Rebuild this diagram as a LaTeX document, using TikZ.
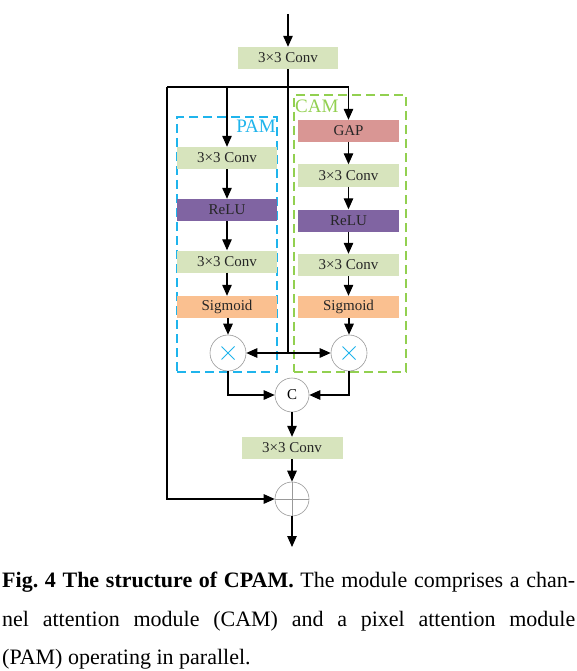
\documentclass[tikz,border=0pt]{standalone}
\usepackage{fontspec}
\setmainfont{Liberation Serif}
\usetikzlibrary{arrows.meta}
\definecolor{convc}{HTML}{D7E4BD}
\definecolor{gapc}{HTML}{D99694}
\definecolor{reluc}{HTML}{8064A2}
\definecolor{sigc}{HTML}{FAC090}
\definecolor{pamc}{HTML}{1FB4EC}
\definecolor{camc}{HTML}{92D050}
\frenchspacing
\begin{document}
\begin{tikzpicture}[x=1pt,y=-1pt,
  blk/.style={minimum width=100pt,minimum height=22pt,inner sep=0pt,font=\fontsize{15}{18}\selectfont,text=black!85},
  conv/.style={blk,fill=convc},
  gapb/.style={blk,fill=gapc,minimum width=101pt},
  relub/.style={blk,fill=reluc},
  sigb/.style={blk,fill=sigc},
  arr/.style={-{Triangle[length=11pt,width=9.5pt]},line width=1.2pt},
  ln/.style={line width=1.2pt},
  op/.style={circle,draw=black!40,line width=0.6pt,minimum size=35pt,inner sep=0pt,fill=white,font=\fontsize{15}{18}\selectfont},
  xmark/.style={draw=pamc,line width=0.9pt},
  dbox/.style={draw,line width=1.4pt,dash pattern=on 9pt off 5pt,inner sep=0pt},
]
\useasboundingbox (0,0) rectangle (577,671);
\fill[white] (0,0) rectangle (577,671);

% dashed module frames
\node[dbox,draw=pamc,minimum width=100pt,minimum height=255pt] (pam) at (227,244.5) {};
\node[dbox,draw=camc,minimum width=112pt,minimum height=277pt] (cam) at (350,233.5) {};
\node[anchor=base east,inner sep=0pt,text=pamc,font=\fontsize{19}{19}\selectfont] (paml) at (276,133) {PAM};
\node[anchor=base west,inner sep=0pt,text=camc,font=\fontsize{19}{19}\selectfont] (caml) at (295,113) {CAM};

% top
\coordinate (in) at (288,14);
\node[conv] (c0) at (288,58) {3×3 Conv};

% PAM column
\node[conv] (p1) at (227,158) {3×3 Conv};
\node[relub] (p2) at (227,210) {ReLU};
\node[conv] (p3) at (227,261.5) {3×3 Conv};
\node[sigb] (p4) at (227,307) {Sigmoid};
\node[op,minimum size=36pt] (px) at (228,353) {};

% CAM column
\node[gapb] (g1) at (348.5,131) {GAP};
\node[conv,minimum width=101pt] (g2) at (348.5,175.5) {3×3 Conv};
\node[relub,minimum width=101pt] (g3) at (348.5,220.5) {ReLU};
\node[conv,minimum width=101pt] (g4) at (348.5,265) {3×3 Conv};
\node[sigb,minimum width=101pt] (g5) at (348.5,307) {Sigmoid};
\node[op,minimum size=36pt] (gx) at (349,353) {};

% multiply marks
\draw[xmark] (px) ++(-6.5,-6.5) -- ++(13,13) (px) ++(6.5,-6.5) -- ++(-13,13);
\draw[xmark] (gx) ++(-6.5,-6.5) -- ++(13,13) (gx) ++(6.5,-6.5) -- ++(-13,13);

% bottom part
\node[op,minimum size=34pt] (cc) at (292,395) {C};
\node[conv,minimum width=101pt] (c5) at (292,448) {3×3 Conv};
\node[op,minimum size=34pt] (sum) at (292,499) {};
\draw[black!40,line width=0.6pt] (sum.north) -- (sum.south) (sum.west) -- (sum.east);
\coordinate (out) at (292,547);

% connectors
\coordinate (bl) at (167,87);
\coordinate (j) at (288,353);
\draw[arr] (in) -- (c0.north);
\draw[ln] (c0.south) -- (j);
\draw[ln] (bl) -- (g1.north |- bl);
\draw[arr] (p1.north |- bl) -- (p1.north);
\draw[arr] (g1.north |- bl) -- (g1.north);
\draw[arr] (bl) |- (sum.west);
\draw[arr] (p1) -- (p2);
\draw[arr] (p2) -- (p3);
\draw[arr] (p3) -- (p4);
\draw[arr] (p4.south -| px) -- (px.north);
\draw[arr] (g1) -- (g2);
\draw[arr] (g2) -- (g3);
\draw[arr] (g3) -- (g4);
\draw[arr] (g4) -- (g5);
\draw[arr] (g5.south -| gx) -- (gx.north);
\draw[arr] (j) -- (px.east);
\draw[arr] (j) -- (gx.west);
\draw[arr] (px.south) |- (cc.west);
\draw[arr] (gx.south) |- (cc.east);
\draw[arr] (cc) -- (c5);
\draw[arr] (c5) -- (sum);
\draw[arr] (sum) -- (out);

% caption
\node[anchor=north west,inner sep=0pt,align=left,font=\fontsize{22}{38.5}\selectfont] (cap) at (2,572)
{\makebox[573pt][s]{\textbf{Fig. 4 The structure of CPAM.} The module comprises a chan-}\\
 \makebox[573pt][s]{nel attention module (CAM) and a pixel attention module}\\
 (PAM) operating in parallel.};
\end{tikzpicture}
\end{document}
